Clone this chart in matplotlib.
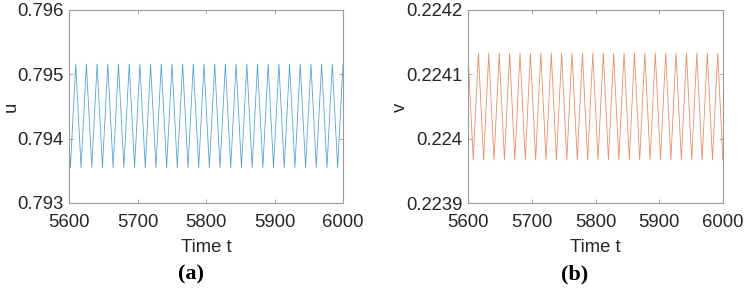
import matplotlib
matplotlib.use("Agg")
import matplotlib.pyplot as plt

plt.rcParams['font.family'] = ['Liberation Sans', 'DejaVu Sans']

t_u = [5600.0, 5602.0, 5609.8, 5617.6, 5625.4, 5633.2, 5641.0, 5648.8, 5656.6,
       5664.4, 5672.2, 5680.1, 5687.9, 5695.7, 5703.5, 5711.3, 5719.1, 5726.9,
       5734.7, 5742.5, 5750.3, 5758.1, 5765.9, 5773.7, 5781.5, 5789.3, 5797.1,
       5804.9, 5812.7, 5820.5, 5828.3, 5836.1, 5843.9, 5851.8, 5859.6, 5867.4,
       5875.2, 5883.0, 5890.8, 5898.6, 5906.4, 5914.2, 5922.0, 5929.8, 5937.6,
       5945.4, 5953.2, 5961.0, 5968.8, 5976.6, 5984.4, 5992.2, 6000.0]
u = [0.79396, 0.79355, 0.79516, 0.79355, 0.79516, 0.79355, 0.79516, 0.79355, 0.79516,
     0.79355, 0.79516, 0.79355, 0.79516, 0.79355, 0.79516, 0.79355, 0.79516, 0.79355,
     0.79516, 0.79355, 0.79516, 0.79355, 0.79516, 0.79355, 0.79516, 0.79355, 0.79516,
     0.79355, 0.79516, 0.79355, 0.79516, 0.79355, 0.79516, 0.79355, 0.79516, 0.79355,
     0.79516, 0.79355, 0.79516, 0.79355, 0.79516, 0.79355, 0.79516, 0.79355, 0.79516,
     0.79355, 0.79516, 0.79355, 0.79516, 0.79355, 0.79516, 0.79355, 0.79516]

t_v = [5600.0, 5608.2, 5616.3, 5624.5, 5632.6, 5640.8, 5649.0, 5657.1, 5665.3,
       5673.4, 5681.6, 5689.8, 5697.9, 5706.1, 5714.2, 5722.4, 5730.6, 5738.7,
       5746.9, 5755.0, 5763.2, 5771.4, 5779.5, 5787.7, 5795.8, 5804.0, 5812.2,
       5820.3, 5828.5, 5836.6, 5844.8, 5853.0, 5861.1, 5869.3, 5877.4, 5885.6,
       5893.8, 5901.9, 5910.1, 5918.2, 5926.4, 5934.6, 5942.7, 5950.9, 5959.0,
       5967.2, 5975.4, 5983.5, 5991.7, 5999.8]
v = [0.224133, 0.223967, 0.224133, 0.223967, 0.224133, 0.223967, 0.224133, 0.223967, 0.224133,
     0.223967, 0.224133, 0.223967, 0.224133, 0.223967, 0.224133, 0.223967, 0.224133, 0.223967,
     0.224133, 0.223967, 0.224133, 0.223967, 0.224133, 0.223967, 0.224133, 0.223967, 0.224133,
     0.223967, 0.224133, 0.223967, 0.224133, 0.223967, 0.224133, 0.223967, 0.224133, 0.223967,
     0.224133, 0.223967, 0.224133, 0.223967, 0.224133, 0.223967, 0.224133, 0.223967, 0.224133,
     0.223967, 0.224133, 0.223967, 0.224133, 0.223967]

x_ticks = [5600, 5700, 5800, 5900, 6000]
u_ticks = [0.793, 0.794, 0.795, 0.796]
u_ticklabels = ['0.793', '0.794', '0.795', '0.796']
v_ticks = [0.2239, 0.2240, 0.2241, 0.2242]
v_ticklabels = ['0.2239', '0.224', '0.2241', '0.2242']

W, H = 755, 289
fig = plt.figure(figsize=(W / 100, H / 100), dpi=100)

def add_ax(l, r, t, b):
    return fig.add_axes([l / W, 1 - b / H, (r - l) / W, (b - t) / H])

ax1 = add_ax(69, 343, 10, 203)
ax2 = add_ax(468, 723, 10, 203)

txt = '#262626'
spine_col = '#9a9a9a'

for ax, t, y, col, yt, ytl, ylim, lab, lab_x in [
        (ax1, t_u, u, '#0072BD', u_ticks, u_ticklabels, (0.793, 0.796), 'u', 11),
        (ax2, t_v, v, '#D95319', v_ticks, v_ticklabels, (0.2239, 0.2242), 'v', 400)]:
    ax.plot(t, y, color=col, lw=0.6, alpha=0.65)
    ax.set_xlim(5600, 6000)
    ax.set_ylim(*ylim)
    ax.set_xticks(x_ticks)
    ax.set_xticklabels([str(x) for x in x_ticks])
    ax.set_yticks(yt)
    ax.set_yticklabels(ytl)
    ax.tick_params(direction='in', length=3, width=0.6, colors=spine_col,
                   labelcolor=txt, labelsize=13.3, top=True, right=True)
    ax.tick_params(axis='x', pad=8)
    ax.tick_params(axis='y', pad=4)
    for s in ax.spines.values():
        s.set_color(spine_col)
        s.set_linewidth(0.8)
    # axis labels
    x0, x1 = ax.get_position().x0, ax.get_position().x1
    fig.text((x0 + x1) / 2, 1 - 252 / H, 'Time t', ha='center', va='baseline',
             fontsize=13.3, color=txt)
    fig.text(lab_x / W, 1 - 107 / H, lab, ha='center', va='center',
             rotation=90, fontsize=13.3, color=txt)

fig.text(191 / W, 1 - 274 / H, '(a)', ha='center', va='center',
         family='Liberation Serif', fontsize=16, fontweight='bold', color='black')
fig.text(575 / W, 1 - 274 / H, '(b)', ha='center', va='center',
         family='Liberation Serif', fontsize=16, fontweight='bold', color='black')

fig.savefig('out.png', dpi=100)
